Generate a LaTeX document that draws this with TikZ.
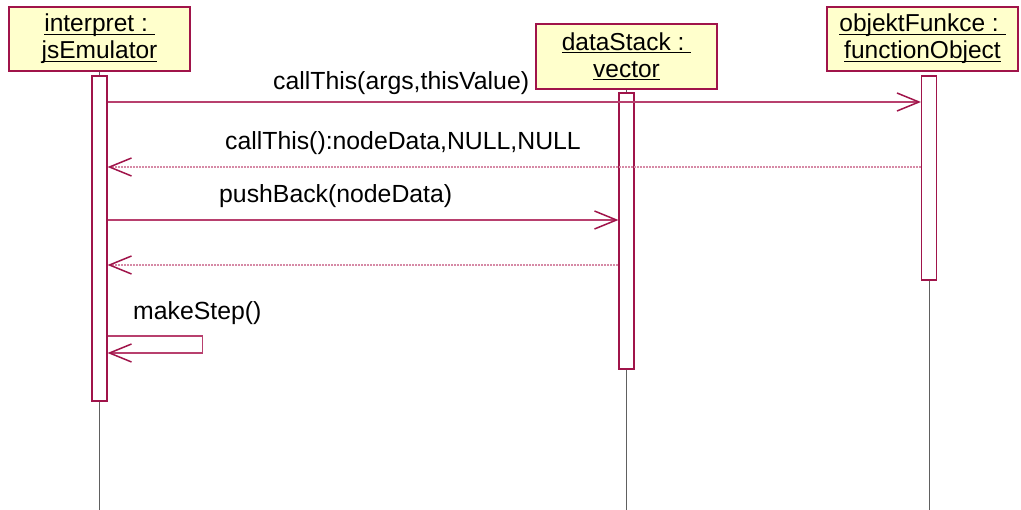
\documentclass[tikz,border=0pt]{standalone}
\usepackage{fontspec}
\setmainfont{Liberation Sans}
\usetikzlibrary{arrows.meta}
\definecolor{umlred}{HTML}{A0144A}
\definecolor{umlfill}{HTML}{FFFFCC}
\definecolor{msgline}{HTML}{B8406E}
\definecolor{retline}{HTML}{D68AA6}
\definecolor{lifegray}{HTML}{606060}
% underlined object name, the rule sits just under the baseline
\newcommand\objname[1]{\setbox0\hbox{#1}\rlap{\rule[-3pt]{\wd0}{1.3pt}}\box0}

\begin{document}
\begin{tikzpicture}[x=1pt,y=-1pt,
  obj/.style={draw=umlred, fill=umlfill, line width=1.1pt, align=center,
    inner sep=0pt, font=\fontsize{24.5}{27}\selectfont},
  act/.style={draw=umlred, fill=white, line width=1.1pt, minimum width=15pt, inner sep=0pt},
  life/.style={draw=lifegray, line width=0.9pt},
  msg/.style={draw=msgline, line width=1.1pt,
    -{Straight Barb[length=22pt,width=18pt,line width=1.5pt,color=umlred]}},
  ret/.style={msg, draw=retline, dash pattern=on 2pt off 1pt},
  lbl/.style={anchor=base west, inner sep=0pt, font=\fontsize{24.8}{27}\selectfont}]

\useasboundingbox (0,0) rectangle (1021,510);
\coordinate (bottom) at (0,510);

% objects
\node[obj, minimum width=181pt, minimum height=64pt] (o1) at (99.5,39)
  {\objname{interpret :\ }\\\objname{jsEmulator}};
\node[obj, minimum width=181pt, minimum height=65pt] (o2) at (626.5,56.5)
  {\objname{dataStack :\ }\\\objname{vector}};
\node[obj, minimum width=191pt, minimum height=64pt] (o3) at (922.5,39)
  {\objname{objektFunkce :\ }\\\objname{functionObject}};

% activations
\node[act, minimum height=325pt] (a1) at (99.5,238.5) {};
\node[act, minimum height=276pt] (a2) at (626.5,231) {};
\node[act, minimum height=204pt] (a3) at (929,178) {};

% lifelines
\draw[life] (o1.south) -- (a1.north);
\draw[life] (a1.south) -- (a1.south |- bottom);
\draw[life] (o2.south) -- (a2.north);
\draw[life] (a2.south) -- (a2.south |- bottom);
\draw[life] (a3.south) -- (a3.south |- bottom);

% message rows
\coordinate (y1) at (0,102);
\coordinate (y2) at (0,167);
\coordinate (y3) at (0,220);
\coordinate (y4) at (0,265);
\coordinate (y5) at (0,336);
\coordinate (y6) at (0,353);

\draw[msg] (a1.east |- y1) -- (a3.west |- y1);
\draw[ret] (a3.west |- y2) -- (a1.east |- y2);
\draw[msg] (a1.east |- y3) -- (a2.west |- y3);
\draw[ret] (a2.west |- y4) -- (a1.east |- y4);
\draw[msg] (a1.east |- y5) -- ++(95,0) |- (a1.east |- y6);

% labels
\node[lbl] (l1) at (273,90) {callThis(args,thisValue)};
\node[lbl] (l2) at (225,150) {callThis():nodeData,NULL,NULL};
\node[lbl] (l3) at (219,203) {pushBack(nodeData)};
\node[lbl] (l5) at (133,320) {makeStep()};
\end{tikzpicture}
\end{document}
